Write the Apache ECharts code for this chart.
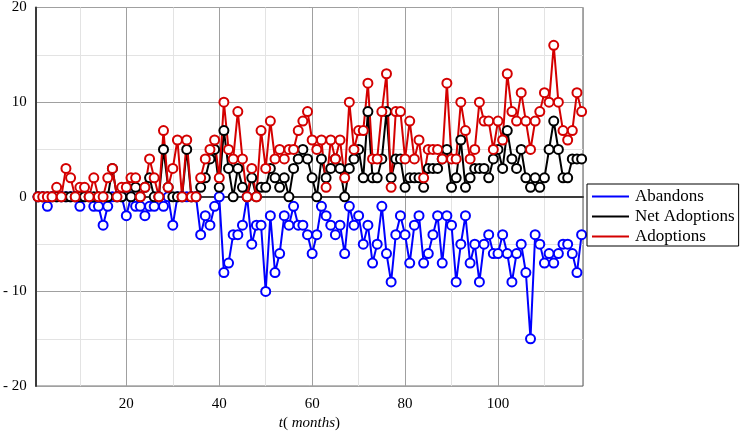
<!DOCTYPE html>
<html>
<head>
<meta charset="utf-8">
<title>Adoptions</title>
<script src="https://cdn.jsdelivr.net/npm/echarts@6.0.0/dist/echarts.min.js"></script>
<style>
  html, body { margin: 0; padding: 0; background: #fff; }
  #main { width: 740px; height: 436px; }
</style>
</head>
<body>
<div id="main"></div>
<script>
// month index 1..118
const months = Array.from({ length: 118 }, (_, i) => i + 1);

// Adoptions (red)
const adoptions = [
  0, 0, 0, 0, 1, 0, 3, 2, 0, 1,
  1, 0, 2, 0, 0, 2, 3, 0, 1, 1,
  2, 2, 0, 1, 4, 2, 0, 7, 1, 3,
  6, 0, 6, 0, 0, 2, 4, 5, 6, 2,
  10, 5, 4, 9, 4, 0, 3, 0, 7, 3,
  8, 4, 5, 4, 5, 5, 7, 8, 9, 6,
  5, 6, 1, 6, 4, 6, 2, 10, 5, 7,
  7, 12, 4, 4, 9, 13, 1, 9, 9, 4,
  8, 4, 6, 2, 5, 5, 5, 4, 12, 4,
  4, 10, 7, 4, 5, 10, 8, 8, 5, 8,
  6, 13, 9, 8, 11, 8, 5, 8, 9, 11,
  10, 16, 10, 7, 6, 7, 11, 9
];

// Abandons (blue)
const abandons = [
  0, 0, -1, 0, 0, 0, 0, 0, 0, -1,
  0, 0, -1, -1, -3, -1, 0, 0, 0, -2,
  0, -1, -1, -2, -1, -1, 0, -1, 0, -3,
  0, 0, 0, 0, 0, -4, -2, -3, -1, 0,
  -8, -7, -4, -4, -3, 0, -5, -3, -3, -10,
  -2, -8, -6, -2, -3, -1, -3, -3, -4, -6,
  -4, -1, -2, -3, -4, -3, -6, -1, -3, -2,
  -5, -3, -7, -5, -1, -6, -9, -4, -2, -4,
  -7, -3, -2, -7, -6, -4, -2, -7, -2, -3,
  -9, -5, -2, -7, -5, -9, -5, -4, -6, -6,
  -4, -6, -9, -6, -5, -8, -15, -4, -5, -7,
  -6, -7, -6, -5, -5, -6, -8, -4
];

// Net Adoptions (black)
const netAdoptions = [
  0, 0, 0, 0, 0, 0, 0, 0, 0, 0,
  0, 0, 0, 0, 0, 0, 3, 0, 0, 1,
  0, 1, 0, 1, 2, 0, 0, 5, 1, 0,
  0, 0, 5, 0, 0, 1, 2, 4, 5, 1,
  7, 3, 0, 3, 1, 0, 2, 0, 1, 1,
  3, 2, 1, 2, 0, 3, 4, 5, 4, 2,
  0, 4, 2, 3, 4, 3, 0, 3, 4, 5,
  2, 9, 2, 2, 4, 9, 2, 4, 4, 1,
  2, 2, 2, 1, 3, 3, 3, 4, 5, 1,
  2, 6, 1, 2, 3, 3, 3, 2, 4, 5,
  3, 7, 4, 3, 5, 2, 1, 2, 1, 2,
  5, 8, 5, 2, 2, 4, 4, 4
];

const seriesNames = ['Abandons', 'Net Adoptions', 'Adoptions'];
const seriesColors = ['#0000ff', '#000000', '#d40000'];
const seriesValues = [abandons, netAdoptions, adoptions];

const font = 'Liberation Serif';
const majorGrid = '#a0a0a0';
const minorGrid = '#e3e3e3';

const chart = echarts.init(document.getElementById('main'));

const option = {
  animation: false,
  grid: {
    left: 33,
    right: 157,
    top: 5,
    bottom: 43,
    show: true,
    borderColor: '#555',
    borderWidth: 1
  },
  legend: {
    orient: 'vertical',
    left: 587,
    top: 184,
    padding: [4, 4, 1, 5],
    itemGap: 3,
    itemWidth: 37,
    itemHeight: 2,
    icon: 'rect',
    borderColor: '#000',
    borderWidth: 1,
    backgroundColor: '#fff',
    textStyle: { fontFamily: font, fontSize: 17, color: '#000', padding: [0, 0, 0, 1] },
    data: seriesNames.map((n, i) => ({ name: n, itemStyle: { color: seriesColors[i] } }))
  },
  xAxis: {
    type: 'value',
    min: 0.5,
    max: 118.3,
    splitNumber: 12,
    name: '{i|t}( {i|months})',
    nameLocation: 'middle',
    nameGap: 27,
    nameTextStyle: {
      fontFamily: font,
      fontSize: 15,
      color: '#000',
      rich: { i: { fontFamily: font, fontStyle: 'italic', fontSize: 15, color: '#000' } }
    },
    axisLine: { lineStyle: { color: '#3a3a3a', width: 2 } },
    axisTick: { show: false },
    axisLabel: {
      margin: 10,
      fontFamily: font,
      fontSize: 15,
      color: '#000',
      formatter: v => (v % 20 === 0 ? String(v) : '')
    },
    splitLine: { show: true, lineStyle: { color: [majorGrid, minorGrid], width: 1 } }
  },
  yAxis: {
    type: 'value',
    min: -20,
    max: 20,
    interval: 5,
    axisLine: { show: true, lineStyle: { color: '#3a3a3a', width: 2 } },
    axisTick: { show: false },
    axisLabel: {
      margin: 9,
      fontFamily: font,
      fontSize: 15,
      color: '#000',
      formatter: v => (v % 10 !== 0 ? '' : v < 0 ? '- ' + Math.abs(v) : String(v))
    },
    splitLine: { show: true, lineStyle: { color: [majorGrid, minorGrid], width: 1 } }
  },
  series: seriesNames.map((n, i) => ({
    name: n,
    type: 'line',
    data: months.map((m, k) => [m, seriesValues[i][k]]),
    color: seriesColors[i],
    symbol: 'emptyCircle',
    symbolSize: 9,
    showAllSymbol: true,
    lineStyle: { color: seriesColors[i], width: 2 },
    itemStyle: { color: seriesColors[i], borderWidth: 1.3 },
    emphasis: { disabled: true }
  }))
};

chart.setOption(option);
</script>
</body>
</html>
